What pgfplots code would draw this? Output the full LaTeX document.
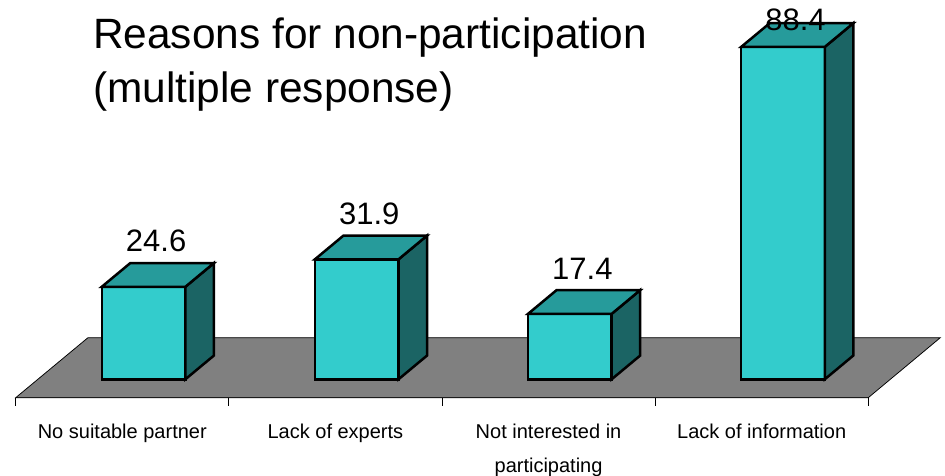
\documentclass[border=0pt]{standalone}
\usepackage{pgfplots}
\usepackage{pgfplotstable}
\pgfplotsset{compat=1.18}
\usepackage{fontspec}
\setmainfont{Liberation Sans}

\definecolor{barfront}{HTML}{33CCCC}
\definecolor{bartop}{HTML}{269B9B}
\definecolor{barside}{HTML}{1B6464}
\definecolor{floorgray}{HTML}{808080}

% side and top face of a bar, drawn at the top centre of its front face;
% \val is the bar's value, 3.76pt per unit
\pgfdeclareplotmark{barfaces}{%
    \pgfmathsetmacro\h{\val*3.76}%
    \pgfsetlinewidth{2.5pt}%
    \pgfsetstrokecolor{black}%
    \pgfsetmiterjoin
    \pgfsetfillcolor{barside}%
    \pgfpathmoveto{\pgfqpoint{41.8pt}{0pt}}%
    \pgfpathlineto{\pgfqpoint{70.3pt}{23.7pt}}%
    \pgfpathlineto{\pgfpoint{70.3pt}{(23.7-\h)*1pt}}%
    \pgfpathlineto{\pgfpoint{41.8pt}{-\h*1pt}}%
    \pgfpathclose
    \pgfusepath{fill,stroke}%
    \pgfsetfillcolor{bartop}%
    \pgfpathmoveto{\pgfqpoint{-41.8pt}{0pt}}%
    \pgfpathlineto{\pgfqpoint{41.8pt}{0pt}}%
    \pgfpathlineto{\pgfqpoint{70.3pt}{23.7pt}}%
    \pgfpathlineto{\pgfqpoint{-13.3pt}{23.7pt}}%
    \pgfpathclose
    \pgfusepath{fill,stroke}%
}

% share of respondents (%), multiple response
\pgfplotstableread{
x v
0 24.6
1 31.9
2 17.4
3 88.4
}\reasons

\begin{document}
\begin{tikzpicture}
\begin{axis}[
    scale only axis,
    width=852.6pt, height=397.7pt,
    xmin=-0.6, xmax=3.4,
    ymin=-4.9, ymax=100.87,
    clip=false,
    axis x line=bottom,
    axis y line=none,
    x axis line style={-, black, line width=1pt},
    xtick={-0.1,0.9,1.9,2.9},
    xticklabels={No suitable partner, Lack of experts, {Not interested in\\participating}, Lack of information},
    major tick length=0pt,
    minor xtick={-0.6,0.4,1.4,2.4,3.4},
    minor tick length=8pt,
    tick align=outside,
    minor tick style={black, line width=0.8pt},
    xticklabel style={font=\fontsize{20}{33.5}\selectfont, align=center, anchor=north, inner sep=0pt, yshift=-26.4pt},
    /pgf/number format/assume math mode=true,
]
    % floor
    \addplot[fill=floorgray, draw=black, line width=0.75pt, forget plot]
        coordinates {(-0.6,-4.9) (3.4,-4.9) (3.738,11.06) (-0.261,11.06)} -- cycle;

    % front faces
    \addplot[ybar, bar width=83.6pt, bar shift=0pt, fill=barfront, draw=black, line width=2.5pt]
        table[x=x, y=v] {\reasons};

    % side and top faces, value labels
    \addplot[only marks, mark=barfaces,
        visualization depends on={\thisrow{v} \as \val},
        nodes near coords,
        every node near coord/.append style={font=\fontsize{31}{36}\selectfont, anchor=south, inner sep=0pt,
            xshift=12.5pt, yshift={min(33.3,347.6-3.76*\val)*1pt}},
    ] table[x=x, y=v] {\reasons};

    \node[anchor=north west, align=left, inner sep=0pt, font=\fontsize{42.4}{54}\selectfont]
        at (axis cs:-0.2373,96.3) {Reasons for non-participation\\(multiple response)};

    \coordinate (imgSW) at (axis cs:-0.6737,-25.72);
    \coordinate (imgNE) at (axis cs:3.760,100.87);
\end{axis}
\pgfresetboundingbox
\path (imgSW) rectangle (imgNE);
\end{tikzpicture}
\end{document}
